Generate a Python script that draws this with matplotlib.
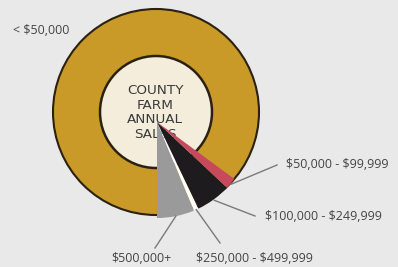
import numpy as np
import matplotlib
matplotlib.use("Agg")
import matplotlib.pyplot as plt
from matplotlib.patches import Circle

plt.rcParams["text.parse_math"] = False

# Data (share of farms, %), counterclockwise from the bottom
categories = ["$500,000+", "$250,000 - $499,999", "$100,000 - $249,999",
              "$50,000 - $99,999", "< $50,000"]
values = [6.3, 0.8, 5.9, 1.9, 85.1]
colors = ["#9a9a9a", "#ffffff", "#1d1b1d", "#c64a5c", "#c99a27"]
center_text = "COUNTY\nFARM\nANNUAL\nSALES"

W, H = 398, 267
fig = plt.figure(figsize=(W / 100, H / 100), dpi=100)
fig.patch.set_facecolor("#e9e9e9")
ax = fig.add_axes([0, 0, 1, 1])

ring_c = (156, 155)
R, r_in = 103, 56
apex = (157, 145)
R_w = 96
outline = "#2b2113"

# the large "< $50,000" share shown as the gold ring
ax.add_patch(Circle(ring_c, R, facecolor=colors[-1], edgecolor=outline,
                    lw=1.5, zorder=2))
ax.add_patch(Circle(ring_c, r_in, facecolor="#f4eddb", edgecolor=outline,
                    lw=1.8, zorder=3))
ax.text(ring_c[0] - 1, ring_c[1] - 0.5, center_text, ha="center", va="center",
        fontsize=9.7, family="DejaVu Sans", color="#3a3a3a",
        linespacing=1.18, zorder=4)

wedges, _ = ax.pie(values, colors=colors, startangle=270, counterclock=True,
                   radius=R_w, center=apex, frame=True,
                   wedgeprops=dict(linewidth=0))
ax.set_xlim(0, W)
ax.set_ylim(0, H)
ax.set_aspect("equal")
ax.axis("off")
for w in wedges[:-1]:
    w.set_zorder(5)
wedges[-1].set_visible(False)

bounds = 270 + 360 * np.cumsum([0] + values) / sum(values)

label_pos = [(141, 9, "center"), (196, 9, "left"), (265, 50, "left"),
             (286, 102, "left")]
line_end = [(155, 19), (220, 24), (255, 51), (277, 102)]
line_r = [96, 96, 97, 97]
for i in range(4):
    mid = np.deg2rad((bounds[i] + bounds[i + 1]) / 2)
    sx, sy = apex[0] + line_r[i] * np.cos(mid), apex[1] + line_r[i] * np.sin(mid)
    ex, ey = line_end[i]
    ax.plot([sx, ex], [sy, ey], color="#7a7a7a", lw=1.0, zorder=7)
    tx, ty, ha = label_pos[i]
    ax.text(tx, ty, categories[i], ha=ha, va="center", fontsize=9,
            family="Open Sans", color="#444444", zorder=8)
ax.text(13, 237, categories[4], ha="left", va="center", fontsize=9,
        family="Open Sans", color="#444444")

fig.savefig("out.png", dpi=100, facecolor=fig.get_facecolor())
